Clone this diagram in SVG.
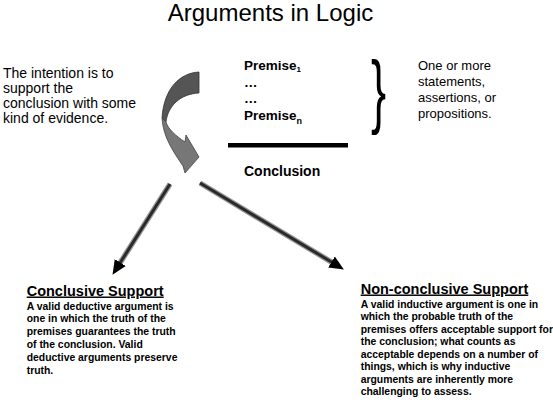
<svg xmlns="http://www.w3.org/2000/svg" width="553" height="406" viewBox="0 0 553 406">
<style>
text{font-family:"Liberation Sans",Arial,sans-serif;fill:#000}
.b{font-weight:bold}
.body{font-size:10.4px;font-weight:bold}
.head{font-size:14.5px;font-weight:bold;text-decoration:underline}
.shade{stroke:#999;stroke-width:5.5;fill:none}
.core{stroke:#2a2a2a;stroke-width:3;fill:none}
</style>
<defs>
<marker id="ah" viewBox="0 -7 15 14" markerWidth="15" markerHeight="14" refX="0.5" refY="0" orient="auto" markerUnits="userSpaceOnUse">
<path d="M0,-6.5 L14.5,0 L0,6.5 Z" fill="#000"/>
</marker>
</defs>
<rect width="553" height="406" fill="#fff"/>
<g id="title"><text x="270.5" y="21" font-size="24" text-anchor="middle">Arguments in Logic</text></g>
<g id="intention">
<text font-size="14"><tspan x="3" y="78">The intention is to</tspan><tspan x="3" y="93">support the</tspan><tspan x="3" y="108">conclusion with some</tspan><tspan x="3" y="123">kind of evidence.</tspan></text>
</g>
<g id="curved-arrow">
<path d="M199,72 C180,73 164,88 162,118 L166,122 C168,106 180,94 199,93 Z" fill="#555" stroke="#333" stroke-width="0.8"/>
<path d="M162,118 C163,136 172,150 183,166 L185,173 L199,157 L186,135 L185,142 C176,136 168,129 166,122 Z" fill="#777" stroke="#444" stroke-width="0.8"/>
</g>
<g id="argument">
<text class="b" font-size="13.5" x="244" y="70">Premise<tspan font-size="8" dy="2">1</tspan></text>
<text class="b" font-size="13.5" x="244" y="86.5">…</text>
<text class="b" font-size="13.5" x="244" y="103">…</text>
<text class="b" font-size="13.5" x="244" y="120">Premise<tspan font-size="9" dy="4">n</tspan></text>
<rect x="228" y="143" width="120" height="4.5" fill="#000"/>
<text class="b" font-size="14" x="244" y="176">Conclusion</text>
</g>
<g id="brace">
<text x="0" y="0" font-family="Liberation Serif" font-size="82" transform="translate(371,118) scale(0.55,1)">}</text>
</g>
<g id="statements">
<text font-size="13"><tspan x="418" y="70">One or more</tspan><tspan x="418" y="86">statements,</tspan><tspan x="418" y="102">assertions, or</tspan><tspan x="418" y="118">propositions.</tspan></text>
</g>
<g id="connectors">
<line class="shade" x1="170" y1="184" x2="120" y2="263"/>
<line class="core" x1="170" y1="184" x2="120" y2="263" marker-end="url(#ah)"/>
<line class="shade" x1="200" y1="183" x2="331.9" y2="262.3"/>
<line class="core" x1="200" y1="183" x2="331.9" y2="262.3" marker-end="url(#ah)"/>
</g>
<g id="conclusive">
<text class="head" x="26.7" y="295.5">Conclusive Support</text>
<text class="body"><tspan x="26.7" y="309.5">A valid deductive argument is</tspan><tspan x="26.7" y="322.3">one in which the truth of the</tspan><tspan x="26.7" y="335.1">premises guarantees the truth</tspan><tspan x="26.7" y="347.9">of the conclusion. Valid</tspan><tspan x="26.7" y="360.7">deductive arguments preserve</tspan><tspan x="26.7" y="373.5">truth.</tspan></text>
</g>
<g id="nonconclusive">
<text class="head" x="360.7" y="293.5">Non-conclusive Support</text>
<text class="body"><tspan x="360.7" y="307.5">A valid inductive argument is one in</tspan><tspan x="360.7" y="320">which the probable truth of the</tspan><tspan x="360.7" y="332.5">premises offers acceptable support for</tspan><tspan x="360.7" y="345">the conclusion; what counts as</tspan><tspan x="360.7" y="357.5">acceptable depends on a number of</tspan><tspan x="360.7" y="370">things, which is why inductive</tspan><tspan x="360.7" y="382.5">arguments are inherently more</tspan><tspan x="360.7" y="395">challenging to assess.</tspan></text>
</g>
</svg>
